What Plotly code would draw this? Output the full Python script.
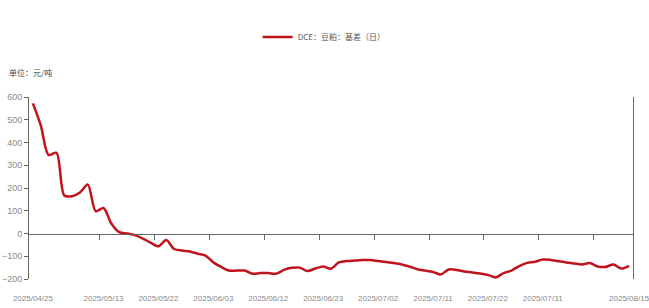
import plotly.graph_objects as go

dates = [
    "2025/04/25", "2025/04/28", "2025/04/29", "2025/04/30",
    "2025/05/06", "2025/05/07", "2025/05/08", "2025/05/09", "2025/05/12", "2025/05/13",
    "2025/05/14", "2025/05/15", "2025/05/16", "2025/05/19", "2025/05/20", "2025/05/21",
    "2025/05/22", "2025/05/23", "2025/05/26", "2025/05/27", "2025/05/28", "2025/05/29",
    "2025/05/30",
    "2025/06/03", "2025/06/04", "2025/06/05", "2025/06/06", "2025/06/09", "2025/06/10",
    "2025/06/11", "2025/06/12", "2025/06/13", "2025/06/16", "2025/06/17", "2025/06/18",
    "2025/06/19", "2025/06/20", "2025/06/23", "2025/06/24", "2025/06/25", "2025/06/26",
    "2025/06/27", "2025/06/30",
    "2025/07/01", "2025/07/02", "2025/07/03", "2025/07/04", "2025/07/07", "2025/07/08",
    "2025/07/09", "2025/07/10", "2025/07/11", "2025/07/14", "2025/07/15", "2025/07/16",
    "2025/07/17", "2025/07/18", "2025/07/21", "2025/07/22", "2025/07/23", "2025/07/24",
    "2025/07/25", "2025/07/28", "2025/07/29", "2025/07/30", "2025/07/31",
    "2025/08/01", "2025/08/04", "2025/08/05", "2025/08/06", "2025/08/07", "2025/08/08",
    "2025/08/11", "2025/08/12", "2025/08/13", "2025/08/14", "2025/08/15",
]

basis = [
    572, 475, 345, 355, 167, 164, 180, 215, 98, 112,
    44, 6, 0, -7, -22, -40, -56, -29, -68, -75,
    -79, -89, -97, -127, -147, -163, -163, -163, -177, -174,
    -174, -177, -160, -151, -150, -165, -154, -145, -155, -127,
    -121, -119, -117, -117, -121, -125, -130, -136, -145, -157,
    -163, -169, -180, -158, -160, -167, -171, -176, -182, -193,
    -174, -163, -143, -129, -124, -114, -116, -122, -127, -132,
    -136, -130, -145, -147, -136, -154, -142,
]

label_dates = ["2025/04/25", "2025/05/13", "2025/05/22", "2025/06/03", "2025/06/12",
               "2025/06/23", "2025/07/02", "2025/07/11", "2025/07/22", "2025/07/31",
               "2025/08/15"]
tick_dates = ["2025/05/13", "2025/05/22", "2025/06/03", "2025/06/12", "2025/06/23",
              "2025/07/02", "2025/07/11", "2025/07/22", "2025/07/31", "2025/08/11"]

series_name = "DCE：豆粕：基差（日）"
unit_text = "单位：元/吨"

tick_pos = [dates.index(d) - 0.5 for d in tick_dates]
n = len(dates)

fig = go.Figure()
fig.add_trace(go.Scatter(
    x=dates, y=basis, mode="lines", name=series_name,
    line=dict(color="#C0141C", width=2.5, shape="spline", smoothing=0.8),
))
# helper trace so the zero-line axis (with boundary ticks) is drawn
fig.add_trace(go.Scatter(x=[0], y=[None], xaxis="x2", yaxis="y",
                         showlegend=False, hoverinfo="skip", mode="lines"))

xtickfont = dict(family="Liberation Sans, Arial, sans-serif", size=8, color="#8a8a8a")
ytickfont = dict(family="Liberation Sans, Arial, sans-serif", size=9, color="#8a8a8a")

fig.update_layout(
    width=649, height=308,
    margin=dict(l=29, r=16, t=97, b=29, autoexpand=False),
    paper_bgcolor="white", plot_bgcolor="white",
    showlegend=True,
    legend=dict(orientation="h", xref="container", yref="container",
                x=0.397, xanchor="left", y=0.88, yanchor="middle",
                font=dict(family="Noto Sans CJK SC", size=8, color="#555555"),
                bgcolor="rgba(0,0,0,0)", itemwidth=30),
    xaxis=dict(type="category", range=[-0.5, n - 0.5], automargin=False,
               tickmode="array", tickvals=label_dates, ticktext=label_dates,
               tickangle=0,
               ticks="outside", ticklen=11, tickcolor="rgba(0,0,0,0)",
               showline=False, showgrid=False, zeroline=False,
               tickfont=xtickfont),
    xaxis2=dict(overlaying="x", anchor="free", position=0.25, automargin=False,
                range=[-0.5, n - 0.5], tickmode="array", tickvals=tick_pos,
                ticks="outside", ticklen=5, tickcolor="#666666",
                showticklabels=False, showline=True, linecolor="#666666",
                linewidth=1, showgrid=False, zeroline=False),
    yaxis=dict(range=[-200, 600], dtick=100, tick0=0, automargin=False,
               ticks="outside", ticklen=4, tickcolor="#666666",
               showline=True, linecolor="#666666", linewidth=1, mirror=True,
               showgrid=False, zeroline=False, tickfont=ytickfont),
    annotations=[dict(text=unit_text, xref="paper", yref="paper",
                      x=(7 - 29) / 604, y=(279 - 72) / 182,
                      xanchor="left", yanchor="middle",
                      showarrow=False,
                      font=dict(family="Noto Sans CJK SC", size=8, color="#444444"))],
)

fig.write_html("out.html", config={"displayModeBar": False},
               post_script="document.body.style.margin='0';document.body.style.overflow='hidden';")
